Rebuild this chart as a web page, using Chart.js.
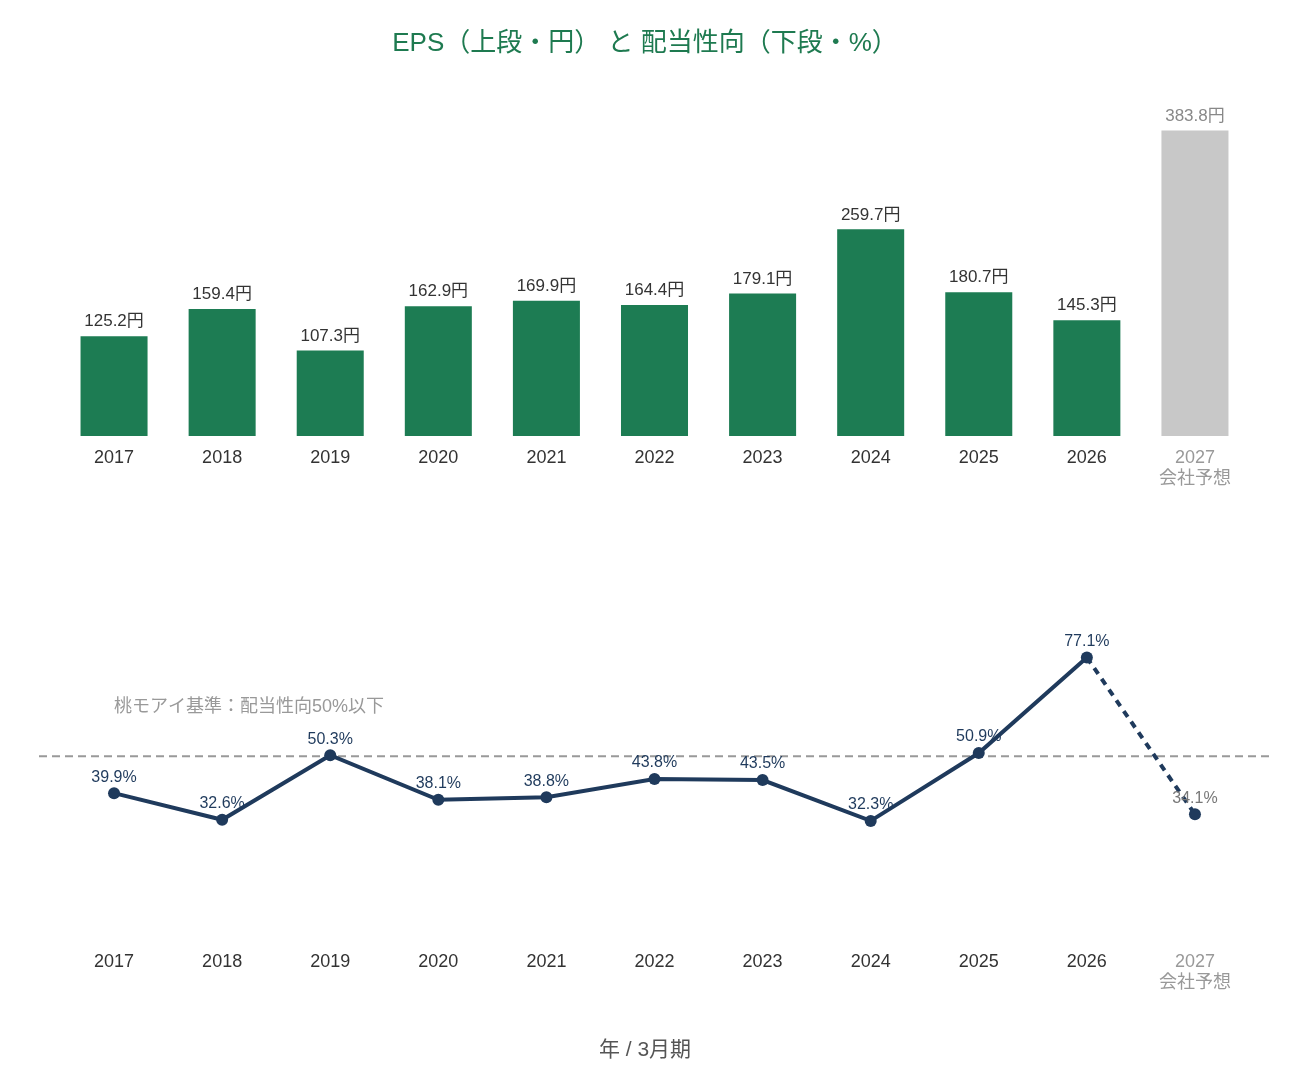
<!DOCTYPE html>
<html>
<head>
<meta charset="utf-8">
<script src="https://cdn.jsdelivr.net/npm/chart.js@4/dist/chart.umd.min.js"></script>
<style>
  body { margin: 0; background: #fff; }
  #wrap { position: relative; width: 1290px; height: 1080px; }
  .box { position: absolute; left: 0; width: 1290px; }
</style>
</head>
<body>
<div id="wrap">
  <div class="box" style="top:500px;height:580px"><canvas id="payoutChart"></canvas></div>
  <div class="box" style="top:0;height:502px"><canvas id="epsChart"></canvas></div>
</div>
<script>
var years = ["2017", "2018", "2019", "2020", "2021", "2022", "2023", "2024", "2025", "2026", ["2027", "会社予想"]];
var eps = [125.2, 159.4, 107.3, 162.9, 169.9, 164.4, 179.1, 259.7, 180.7, 145.3, 383.8];
var payout = [39.9, 32.6, 50.3, 38.1, 38.8, 43.8, 43.5, 32.3, 50.9, 77.1, 34.1];
var payoutLine = 50;
var lineNote = "桃モアイ基準：配当性向50%以下";

var FONT = "'Liberation Sans', 'Noto Sans CJK JP', sans-serif";
var GREEN = "#1d7c53";
var NAVY = "#1f3a5c";
var last = years.length - 1;

function tickColor(c) {
  return c.index === last ? "#999" : "#333";
}

// hidden y axis, only keeps a 19px gutter so titles stay centred on the page
function hiddenY(min, max) {
  return {
    display: true, min: min, max: max,
    grid: { display: false }, border: { display: false },
    ticks: { display: false },
    afterFit: function(s) { s.width = 19; }
  };
}

// value labels above bars / points
var valueLabels = {
  id: "valueLabels",
  afterDatasetsDraw: function(chart, args, opts) {
    var ctx = chart.ctx;
    var meta = chart.getDatasetMeta(0);
    ctx.save();
    ctx.font = opts.size + "px " + FONT;
    ctx.textAlign = "center";
    ctx.textBaseline = "bottom";
    meta.data.forEach(function(el, i) {
      ctx.fillStyle = i === last ? opts.lastColor : opts.color;
      var v = chart.data.datasets[0].data[i];
      ctx.fillText(v.toFixed(1) + opts.unit, el.x, el.y - opts.offset);
    });
    ctx.restore();
  }
};

// 50% reference line with its note
var refLine = {
  id: "refLine",
  beforeDatasetsDraw: function(chart) {
    var ctx = chart.ctx;
    var y = chart.scales.y.getPixelForValue(payoutLine);
    var a = chart.chartArea;
    ctx.save();
    ctx.strokeStyle = "#999";
    ctx.lineWidth = 2;
    ctx.setLineDash([8, 5]);
    ctx.beginPath();
    ctx.moveTo(a.left - 21, y);
    ctx.lineTo(a.right + 21, y);
    ctx.stroke();
    ctx.setLineDash([]);
    ctx.fillStyle = "#999";
    ctx.font = "18px " + FONT;
    ctx.textAlign = "left";
    ctx.textBaseline = "middle";
    ctx.fillText(lineNote, chart.scales.x.getPixelForValue(0), y - 49);
    ctx.restore();
  }
};

new Chart(document.getElementById("epsChart"), {
  type: "bar",
  data: {
    labels: years,
    datasets: [{
      data: eps,
      backgroundColor: eps.map(function(v, i) { return i === last ? "#c8c8c8" : GREEN; }),
      categoryPercentage: 1,
      barPercentage: 0.62
    }]
  },
  options: {
    responsive: true,
    maintainAspectRatio: false,
    animation: false,
    layout: { padding: { left: 41, right: 41, top: 0, bottom: 0 } },
    plugins: {
      legend: { display: false },
      tooltip: { enabled: false },
      title: {
        display: true,
        text: "EPS（上段・円） と 配当性向（下段・%）",
        color: "#1e7a50",
        font: { family: FONT, size: 26, weight: "normal" },
        padding: { top: 28, bottom: 45 }
      },
      valueLabels: { size: 17, color: "#333", lastColor: "#888", unit: "円", offset: 6 }
    },
    scales: {
      x: {
        grid: { display: false, drawTicks: false },
        border: { display: false },
        ticks: { color: tickColor, font: { family: FONT, size: 18, lineHeight: 1.17 }, padding: 12 }
      },
      y: hiddenY(0, 417)
    }
  },
  plugins: [valueLabels]
});

new Chart(document.getElementById("payoutChart"), {
  type: "line",
  data: {
    labels: years,
    datasets: [{
      data: payout,
      borderColor: NAVY,
      backgroundColor: NAVY,
      borderWidth: 4,
      pointRadius: 6,
      pointBackgroundColor: NAVY,
      pointBorderWidth: 0,
      tension: 0,
      segment: {
        borderDash: function(c) { return c.p1DataIndex === last ? [7, 6] : undefined; }
      }
    }]
  },
  options: {
    responsive: true,
    maintainAspectRatio: false,
    animation: false,
    layout: { padding: { left: 41, right: 41, top: 74, bottom: 17 } },
    plugins: {
      legend: { display: false },
      tooltip: { enabled: false },
      title: {
        display: true,
        position: "bottom",
        text: "年 / 3月期",
        color: "#555",
        font: { family: FONT, size: 21, weight: "normal" },
        padding: { top: 31, bottom: 0 }
      },
      valueLabels: { size: 16, color: NAVY, lastColor: "#777", unit: "%", offset: 8 }
    },
    scales: {
      x: {
        offset: true,
        grid: { display: false, drawTicks: false },
        border: { display: false },
        ticks: { color: tickColor, font: { family: FONT, size: 18, lineHeight: 1.17 }, padding: 13 }
      },
      y: hiddenY(0, 100)
    }
  },
  plugins: [refLine, valueLabels]
});
</script>
</body>
</html>
